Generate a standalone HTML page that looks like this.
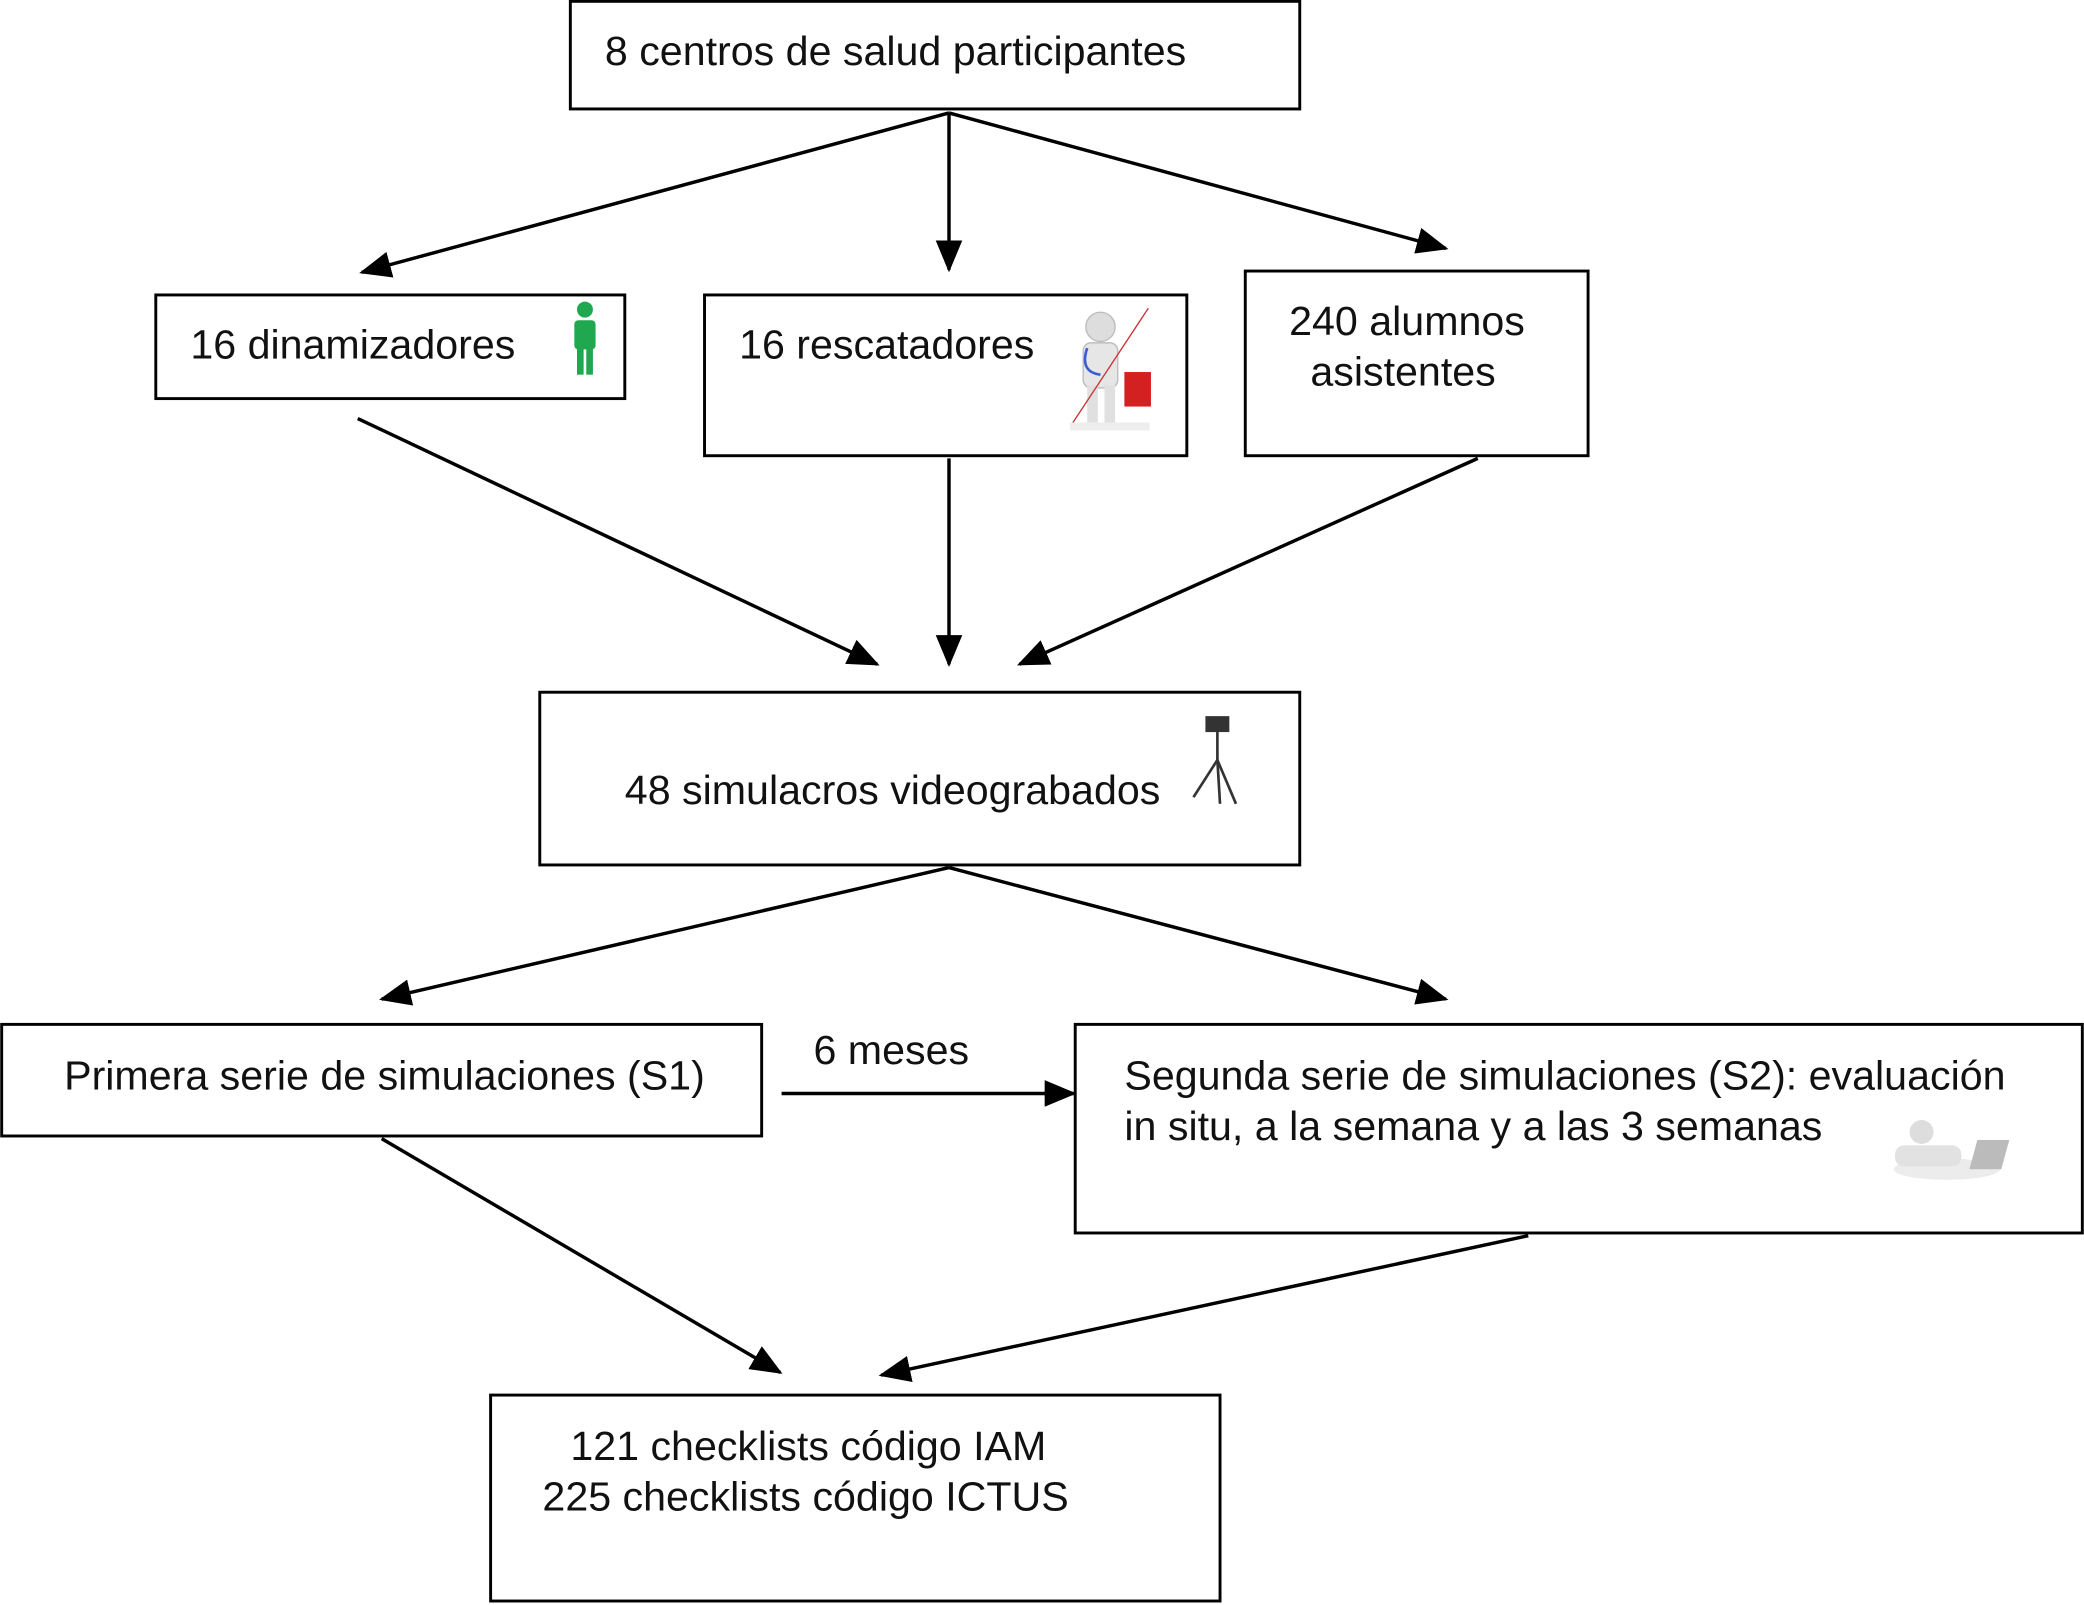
<!DOCTYPE html>
<html><head><meta charset="utf-8"><style>
html,body{margin:0;padding:0;background:#fff}
svg{display:block}
text{font-family:"Liberation Sans",sans-serif;font-size:31px;fill:#111}
</style></head><body>
<svg width="2084" height="1605" viewBox="0 0 1568 1208" xmlns="http://www.w3.org/2000/svg">
<defs>
<marker id="a" markerUnits="userSpaceOnUse" markerWidth="24" markerHeight="20" refX="22" refY="10" orient="auto">
<path d="M0,0 L24,10 L0,20 Z" fill="#000"/>
</marker>
</defs>
<g fill="none" stroke="#000" stroke-width="2.2">
<rect x="429" y="1" width="549" height="81"/>
<rect x="117" y="222" width="353" height="78"/>
<rect x="530" y="222" width="363" height="121"/>
<rect x="937" y="204" width="258" height="139"/>
<rect x="406" y="521" width="572" height="130"/>
<rect x="1" y="771" width="572" height="84"/>
<rect x="809" y="771" width="758" height="157"/>
<rect x="369" y="1050" width="549" height="155"/>
</g>
<g stroke="#000" stroke-width="2.6" marker-end="url(#a)">
<line x1="714" y1="85" x2="272" y2="205"/>
<line x1="714" y1="85" x2="714" y2="203"/>
<line x1="714" y1="85" x2="1088" y2="187"/>
<line x1="269" y1="315" x2="660" y2="500"/>
<line x1="714" y1="345" x2="714" y2="500"/>
<line x1="1112" y1="345" x2="767" y2="500"/>
<line x1="714" y1="653" x2="287" y2="752"/>
<line x1="714" y1="653" x2="1088" y2="752"/>
<line x1="287" y1="857" x2="587" y2="1033"/>
<line x1="1150" y1="930" x2="663" y2="1035"/>
<line x1="588" y1="823" x2="808" y2="823"/>
</g>
<text x="455" y="49">8 centros de salud participantes</text>
<text x="143" y="270">16 dinamizadores</text>
<text x="556" y="270">16 rescatadores</text>
<text x="970" y="252">240 alumnos</text>
<text x="986" y="290">asistentes</text>
<text x="470" y="605">48 simulacros videograbados</text>
<text x="48" y="820">Primera serie de simulaciones (S1)</text>
<text x="612" y="801">6 meses</text>
<text x="846" y="820">Segunda serie de simulaciones (S2): evaluación</text>
<text x="846" y="858">in situ, a la semana y a las 3 semanas</text>
<text x="429" y="1099">121 checklists código IAM</text>
<text x="408" y="1137">225 checklists código ICTUS</text>
<g fill="#1fa84f">
<circle cx="440" cy="233" r="6"/>
<rect x="432" y="241" width="16" height="22" rx="3"/>
<rect x="434" y="260" width="5" height="22"/>
<rect x="441" y="260" width="5" height="22"/>
</g>
<g>
<circle cx="828" cy="246" r="11" fill="#ddd" stroke="#bbb"/>
<rect x="815" y="258" width="26" height="34" rx="6" fill="#e6e6e6" stroke="#bbb"/>
<rect x="818" y="290" width="8" height="28" fill="#e0e0e0"/>
<rect x="831" y="290" width="8" height="28" fill="#e0e0e0"/>
<rect x="846" y="280" width="20" height="26" fill="#d32020"/>
<path d="M818,262 Q812,280 828,282" stroke="#3a5fcd" stroke-width="2" fill="none"/>
<line x1="806" y1="320" x2="864" y2="232" stroke="#c33" stroke-width="1"/>
<rect x="805" y="318" width="60" height="6" fill="#eee"/>
</g>
<g stroke="#333" stroke-width="2" fill="none">
<rect x="908" y="540" width="16" height="10" fill="#333"/>
<line x1="916" y1="550" x2="916" y2="575"/>
<line x1="916" y1="572" x2="898" y2="600"/>
<line x1="916" y1="572" x2="930" y2="605"/>
<line x1="916" y1="572" x2="918" y2="605"/>
</g>
<g>
<ellipse cx="1465" cy="880" rx="40" ry="8" fill="#ececec"/>
<circle cx="1446" cy="852" r="9" fill="#ddd"/>
<rect x="1426" y="862" width="50" height="16" rx="7" fill="#e2e2e2"/>
<path d="M1488,858 L1512,858 L1506,880 L1482,880 Z" fill="#bbb"/>
</g>
</svg>
</body></html>
